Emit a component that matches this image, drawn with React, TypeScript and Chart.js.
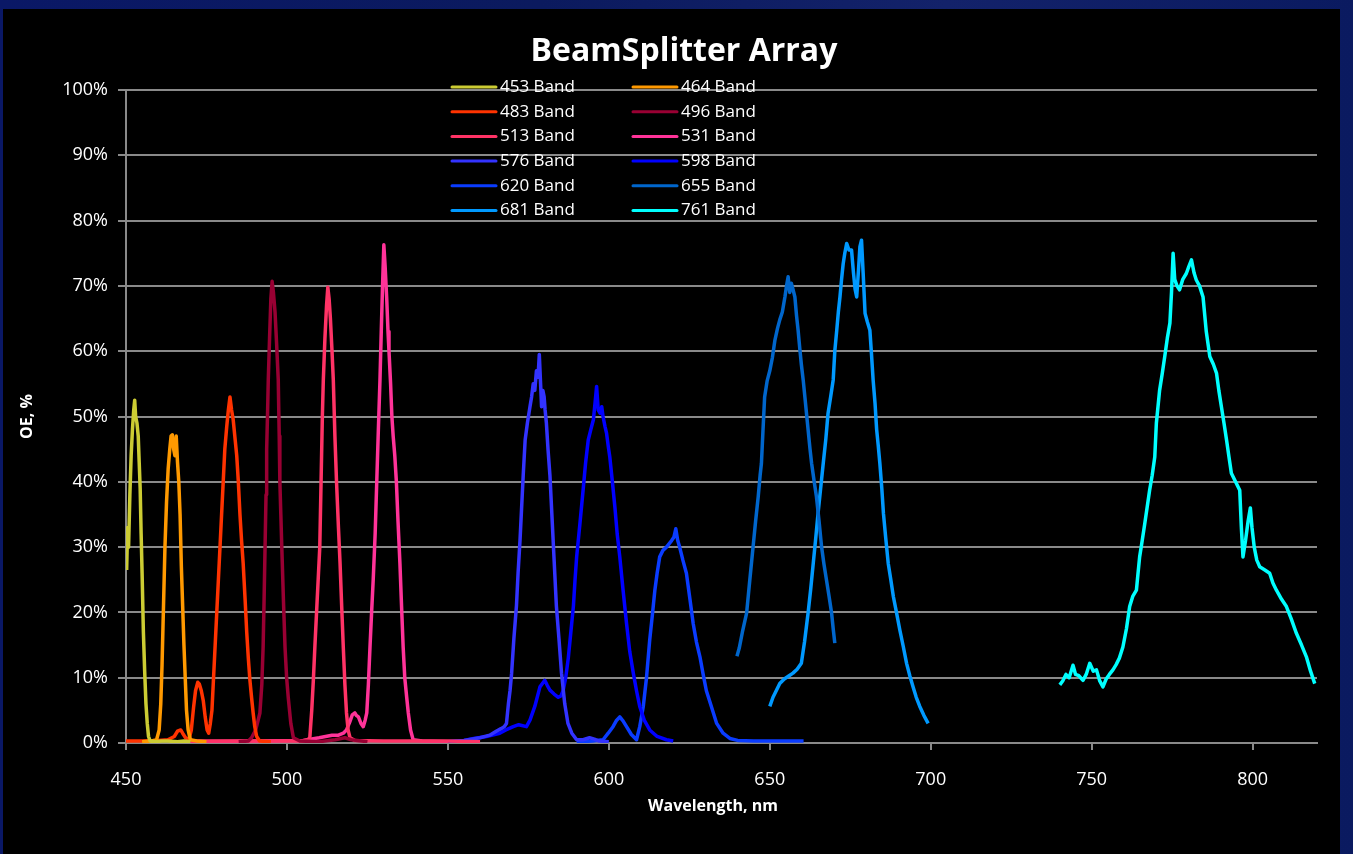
import React, { useEffect, useRef } from 'react';
import { Chart, registerables } from 'chart.js';

Chart.register(...registerables);

type P = [number, number];

const titleText = 'BeamSplitter Array';
const xTitle = 'Wavelength, nm';
const yTitle = 'OE, %';
const xTicks = [450, 500, 550, 600, 650, 700, 750, 800];

const bandNames = ['453 Band', '464 Band', '483 Band', '496 Band', '513 Band', '531 Band', '576 Band', '598 Band', '620 Band', '655 Band', '681 Band', '761 Band'];
const bandColors = ['#CCCC33', '#FF9900', '#FF3300', '#990033', '#FF3366', '#FF3399', '#3333FF', '#0000FF', '#0A3CFF', '#0066CC', '#0099FF', '#00FFFF'];

const band453: P[] = [[450.2, 26.5], [450.5, 33], [450.8, 30], [451.2, 38], [451.6, 44], [452.0, 48], [452.4, 51], [452.7, 52.5], [453.0, 50], [453.4, 49], [453.8, 47], [454.1, 43], [454.4, 39], [454.7, 32], [455.0, 26], [455.4, 17], [455.8, 11], [456.2, 6], [456.6, 3], [457.0, 1], [457.5, 0.3], [459, 0.2], [461, 0.3], [463, 0.3], [466, 0.2], [468, 0.3], [470, 0.2]];

const band464: P[] = [[455, 0.2], [458, 0.3], [459.5, 0.5], [460.3, 2], [460.8, 6], [461.2, 12], [461.6, 20], [462.1, 30], [462.6, 37], [463.1, 42], [463.6, 45], [464.0, 47], [464.4, 47.2], [464.8, 45], [465.2, 44], [465.6, 47], [466.0, 43], [466.4, 40], [466.8, 35], [467.2, 27], [467.6, 21], [468.0, 15], [468.4, 10], [468.8, 5], [469.3, 2], [470, 0.5], [472, 0.3], [475, 0.2]];

const band483: P[] = [[450, 0.3], [455, 0.3], [460, 0.4], [463, 0.5], [465, 1], [466, 1.8], [467, 2], [467.6, 1.5], [468.5, 0.8], [469.5, 0.5], [470.3, 2], [471, 5.5], [471.6, 8], [472.3, 9.3], [472.8, 9], [473.4, 8], [474, 6.5], [474.6, 4], [475.2, 2], [475.7, 1.5], [476.2, 3], [476.7, 5], [477.2, 10], [477.7, 15], [478.2, 20], [478.7, 25], [479.2, 30], [479.7, 35], [480.2, 40], [480.7, 45], [481.3, 48.5], [481.8, 51], [482.3, 53], [482.8, 51], [483.3, 49.5], [483.8, 47], [484.4, 44], [484.9, 40], [485.4, 35], [485.9, 31], [486.4, 27.5], [487.0, 22], [487.5, 17], [488.0, 13], [488.5, 9.6], [489.0, 7], [489.5, 4.6], [490.0, 2.5], [490.6, 1], [491.5, 0.3], [495, 0.2]];

const band496: P[] = [[485, 0.2], [488, 0.3], [489, 0.8], [490.3, 2], [491.6, 4.6], [492.2, 9], [492.6, 14.7], [492.9, 22], [493.2, 30], [493.5, 38], [493.7, 45], [494.0, 51], [494.2, 55.6], [494.6, 62], [495.0, 68], [495.4, 70.7], [495.8, 69], [496.3, 66], [496.8, 61], [497.3, 55.6], [497.6, 47], [497.8, 40], [498.1, 35], [498.4, 30], [498.9, 22], [499.4, 14.7], [499.9, 10], [500.4, 7], [501.2, 3], [502, 0.8], [504, 0.3], [510, 0.2], [515, 0.5], [518, 0.8], [520, 0.5], [525, 0.2]];

const band513: P[] = [[470, 0.3], [480, 0.3], [490, 0.3], [500, 0.3], [505, 0.3], [506.5, 0.5], [507.1, 0.8], [507.7, 5], [508.2, 9.6], [508.7, 15], [509.2, 20], [509.7, 25], [510.2, 30], [510.6, 40], [511.0, 50], [511.3, 55.6], [511.8, 62], [512.3, 67], [512.7, 69.8], [513.1, 68], [513.5, 65], [514.0, 60], [514.4, 55.6], [514.9, 47], [515.4, 40], [516.0, 33], [516.5, 27.5], [517.0, 21], [517.5, 14.7], [518.0, 9], [518.5, 4.6], [519.0, 2], [519.6, 0.8], [521, 0.4], [530, 0.3], [540, 0.3], [550, 0.3], [560, 0.2]];

const band531: P[] = [[470, 0.2], [490, 0.3], [505, 0.4], [510, 0.8], [514, 1.2], [516, 1.2], [517.5, 1.5], [518.5, 2], [519.5, 3.2], [520.3, 4.3], [521.1, 4.6], [521.6, 4.2], [522.2, 4], [523.0, 3], [523.7, 2.5], [524.3, 3.5], [524.8, 4.6], [525.3, 9], [525.8, 14.7], [526.3, 20], [526.8, 25], [527.4, 32], [527.9, 40], [528.4, 48], [528.9, 55.6], [529.3, 63], [529.7, 70], [530.1, 76.3], [530.5, 73], [531.0, 68], [531.4, 63], [531.7, 60], [532.2, 55], [532.6, 50], [533.0, 47], [533.5, 44], [534.0, 40], [534.5, 34], [535.1, 27.5], [535.6, 21], [536.1, 14.7], [536.6, 10], [537.2, 7], [537.7, 4.6], [538.4, 2], [539.2, 0.5], [542, 0.3], [550, 0.2]];

const band576: P[] = [[550, 0.2], [555, 0.4], [560, 0.8], [563, 1.2], [565, 1.8], [566.5, 2.2], [567.5, 2.5], [568.2, 3], [568.8, 6], [569.3, 8], [569.8, 10.7], [570.5, 16], [571.3, 21], [571.8, 26], [572.4, 31], [572.9, 36], [573.4, 41], [574.0, 46.4], [574.7, 49], [575.5, 51.5], [576.0, 53], [576.5, 55], [577.0, 54], [577.5, 57], [578.0, 56], [578.4, 59.5], [578.8, 55], [579.1, 51.5], [579.5, 54], [579.9, 53], [580.2, 51], [580.6, 49], [581.1, 45], [581.7, 41], [582.2, 36], [582.7, 31], [583.2, 26], [583.7, 21], [584.5, 16], [585.3, 10.7], [586.3, 6], [587.3, 3], [588.5, 1.5], [590, 0.5], [592, 0.5], [594, 0.8], [595.5, 0.6], [597, 0.3], [600, 0.2]];

const band598: P[] = [[550, 0.2], [555, 0.4], [558, 0.7], [562, 1], [566.1, 1.5], [568, 2], [570.3, 2.5], [572, 2.8], [574.4, 2.5], [575.5, 3.5], [577, 5.6], [578.6, 8.6], [580.1, 9.6], [580.9, 8.8], [581.7, 8.1], [583, 7.5], [584.3, 7], [585.1, 7.2], [585.8, 8], [586.6, 10], [587.4, 13], [588.2, 17], [589.0, 21], [589.5, 25], [590.0, 28.5], [591.0, 33.5], [592.0, 38.7], [592.8, 43], [593.6, 46.4], [594.4, 48], [595.2, 49.5], [595.7, 52], [596.2, 54.6], [596.7, 51], [597.3, 50.5], [597.8, 51.5], [598.2, 50], [598.8, 48.5], [599.3, 47.4], [599.8, 45.5], [600.3, 43.8], [601.1, 40], [601.9, 36], [602.6, 32], [603.4, 28.5], [604.4, 23.5], [605.5, 18.3], [606.5, 14], [607.6, 10.7], [608.6, 8], [609.6, 5.6], [611, 3.5], [612.7, 2], [615, 1], [617.9, 0.5], [620, 0.3]];

const band620: P[] = [[590, 0.2], [595, 0.3], [598.2, 0.5], [599.8, 1.5], [601.3, 2.5], [602.3, 3.4], [603.4, 4], [604.4, 3.4], [605.5, 2.5], [607, 1.3], [608.6, 0.5], [609.6, 2.5], [610.7, 5.6], [611.7, 10], [612.7, 15.8], [613.5, 19.5], [614.3, 23.4], [615.0, 26], [615.8, 28.5], [616.8, 29.5], [617.9, 30], [618.7, 30.5], [619.5, 31], [620.2, 31.5], [620.8, 32.8], [621.4, 31], [622.0, 30], [623.0, 28], [624.1, 26], [625.2, 22], [626.2, 18.3], [627.2, 15.5], [628.3, 13.2], [629.3, 10.5], [630.3, 8], [631.9, 5.5], [633.5, 3], [635.5, 1.5], [637.6, 0.7], [640, 0.4], [645, 0.3], [650, 0.3], [655, 0.3], [660.5, 0.3]];

const band655: P[] = [[639.8, 13.3], [640.5, 14.5], [641.5, 17], [642.8, 19.9], [643.8, 25], [644.8, 30], [645.6, 34], [646.4, 37.7], [647.0, 41], [647.4, 42.8], [647.9, 48], [648.4, 53], [649.2, 55.5], [650.0, 57], [650.8, 59], [651.6, 61.7], [652.4, 63.5], [653.1, 64.8], [653.9, 66], [654.7, 68.3], [655.2, 70], [655.7, 71.4], [656.2, 69], [656.7, 70.4], [657.2, 69.5], [657.8, 68.3], [658.3, 65.5], [658.8, 63.2], [659.3, 60.5], [659.8, 58], [660.4, 55.5], [660.9, 53], [661.4, 50.5], [661.9, 48], [662.5, 45], [663.0, 42.8], [663.8, 40], [664.5, 37.7], [665.3, 34], [666.1, 30], [666.8, 27.5], [667.6, 25], [668.4, 22.5], [669.2, 19.9], [669.7, 17.5], [670.2, 15.3]];

const band681: P[] = [[650.0, 5.6], [651.0, 7], [652.0, 8], [653.1, 9.1], [654.5, 9.8], [656.0, 10.3], [657.2, 10.7], [658.5, 11.3], [659.8, 12.2], [660.8, 15.5], [661.9, 19.9], [662.7, 23.5], [663.5, 27.5], [664.3, 31.5], [665.0, 35.2], [665.8, 39], [666.6, 42.8], [667.4, 46.5], [668.1, 50.5], [668.9, 53], [669.7, 55.6], [670.2, 60], [670.8, 63.2], [671.3, 66], [671.8, 68.3], [672.3, 71], [672.8, 73.4], [673.3, 75], [673.9, 76.5], [674.6, 75.5], [675.4, 75.5], [676.0, 72], [676.5, 69.5], [677.0, 68.3], [677.5, 72], [678.0, 76], [678.5, 77], [679.0, 72], [679.6, 65.8], [680.3, 64.5], [681.1, 63.2], [681.6, 59.5], [682.1, 55.6], [682.7, 52], [683.2, 48], [683.7, 45.5], [684.2, 42.8], [684.8, 39], [685.3, 35.2], [686.0, 31.5], [686.8, 27.5], [687.6, 25], [688.4, 22.4], [689.4, 19.9], [690.4, 17.3], [691.5, 14.7], [692.5, 12.2], [693.5, 10.3], [694.5, 8.6], [695.5, 7], [696.6, 5.6], [697.9, 4.2], [699.2, 3]];

const band761: P[] = [[740.1, 8.9], [741.0, 9.5], [742.0, 10.5], [743.0, 10], [744.2, 11.9], [745.0, 10.5], [746.0, 10.3], [747.3, 9.6], [748.3, 10.5], [749.4, 12.2], [750.5, 11], [751.5, 11.2], [752.5, 9.5], [753.5, 8.6], [754.5, 9.8], [755.5, 10.5], [756.6, 11.2], [757.6, 12], [758.6, 13], [759.7, 14.7], [760.8, 17.5], [761.8, 20.9], [762.8, 22.5], [763.9, 23.4], [764.4, 26], [764.9, 28.5], [765.7, 31], [766.5, 33.6], [767.2, 36], [768.0, 38.7], [768.8, 41], [769.6, 43.8], [770.1, 49], [770.6, 51.5], [771.1, 54], [771.9, 56.5], [772.7, 59.2], [773.5, 62], [774.3, 64.3], [774.8, 69], [775.3, 75], [775.8, 71], [776.5, 70], [777.3, 69.4], [778.3, 71], [779.4, 71.9], [780.2, 73], [781.0, 74], [781.8, 72], [782.5, 70.9], [783.5, 70], [784.6, 68.3], [785.6, 63], [786.7, 59.2], [787.8, 58], [788.8, 56.6], [789.5, 54], [790.3, 51.5], [791.1, 49], [791.9, 46.4], [792.6, 44], [793.4, 41.3], [794.7, 40], [796.0, 38.7], [796.5, 33], [797.0, 28.5], [797.8, 31], [798.6, 34], [799.3, 36], [799.8, 33], [800.5, 30], [801.3, 28], [802.2, 27], [803.8, 26.5], [805.3, 26], [806.3, 24.5], [807.4, 23.4], [809.0, 22], [810.5, 20.9], [812.0, 19], [813.6, 16.8], [815.2, 15], [816.7, 13.2], [818.0, 11], [819.3, 9.1]];

const bandData: P[][] = [band453, band464, band483, band496, band513, band531, band576, band598, band620, band655, band681, band761];

const FONT = "'Open Sans', 'DejaVu Sans', sans-serif";

const overlayText = {
  id: 'overlayText',
  afterDraw(chart: any) {
    const ctx = chart.ctx;
    ctx.save();
    // Title
    ctx.fillStyle = '#ffffff';
    ctx.textAlign = 'center';
    ctx.textBaseline = 'middle';
    ctx.font = `bold 32px ${FONT}`;
    ctx.fillText(titleText, 681, 43);
    // X axis title
    ctx.font = `bold 16px ${FONT}`;
    ctx.fillText(xTitle, 710, 797);
    // Legend (two columns)
    ctx.font = `17px ${FONT}`;
    ctx.textAlign = 'left';
    chart.data.datasets.forEach((ds: any, i: number) => {
      const col = i % 2;
      const row = Math.floor(i / 2);
      const x0 = col === 0 ? 449 : 630;
      const y = 78 + row * 24.7;
      ctx.strokeStyle = ds.borderColor;
      ctx.lineWidth = 3;
      ctx.lineCap = 'round';
      ctx.beginPath();
      ctx.moveTo(x0, y);
      ctx.lineTo(x0 + 44, y);
      ctx.stroke();
      ctx.fillStyle = '#ffffff';
      ctx.fillText(ds.label, x0 + 48, y);
    });
    ctx.restore();
  },
};

export default function App() {
  const ref = useRef<HTMLCanvasElement | null>(null);

  useEffect(() => {
    if (!ref.current) return;
    const chart = new Chart(ref.current, {
      type: 'line',
      data: {
        datasets: bandNames.map((name, i) => ({
          label: name,
          data: bandData[i].map(([x, y]) => ({ x, y })),
          borderColor: bandColors[i],
          backgroundColor: bandColors[i],
          borderWidth: 3.5,
          pointRadius: 0,
          tension: 0,
          fill: false,
          borderJoinStyle: 'round' as const,
        })),
      },
      options: {
        animation: false,
        responsive: false,
        maintainAspectRatio: false,
        devicePixelRatio: 1,
        layout: { padding: { left: 0, right: 23, top: 81, bottom: 0 } },
        plugins: {
          legend: { display: false },
          tooltip: { enabled: false },
          title: { display: false },
        },
        scales: {
          x: {
            type: 'linear',
            min: 450,
            max: 820,
            afterFit: (s: any) => { s.height = 111; },
            afterBuildTicks: (s: any) => { s.ticks = xTicks.map((v) => ({ value: v })); },
            ticks: {
              color: '#ffffff',
              font: { family: FONT, size: 18 },
              padding: 19,
              maxRotation: 0,
              autoSkip: false,
            },
            grid: { display: true, drawOnChartArea: false, drawTicks: true, tickLength: 7, color: '#8a8a8a', lineWidth: 2 },
            border: { display: true, color: '#8a8a8a', width: 2 },
            title: { display: false },
          },
          y: {
            min: 0,
            max: 100,
            afterFit: (s: any) => { s.width = 123; },
            ticks: {
              stepSize: 10,
              color: '#ffffff',
              font: { family: FONT, size: 18 },
              padding: 10,
              callback: (v: any) => `${v}%`,
            },
            grid: { color: '#8a8a8a', lineWidth: 2, tickLength: 8 },
            border: { display: true, color: '#8a8a8a', width: 2 },
            title: {
              display: true,
              text: yTitle,
              color: '#ffffff',
              font: { family: FONT, size: 16, weight: 'bold' },
              padding: { top: 15, bottom: 0 },
            },
          },
        },
      },
      plugins: [overlayText],
    });
    return () => chart.destroy();
  }, []);

  return (
    <div
      style={{
        position: 'fixed',
        left: 0,
        top: 0,
        width: 1353,
        height: 854,
        overflow: 'hidden',
        background: 'linear-gradient(90deg, #0a1866 0%, #0b1a5e 40%, #13226a 70%, #0a1a60 100%)',
      }}
    >
      <div style={{ position: 'absolute', left: 3, top: 9, width: 1337, height: 845, background: '#000000' }}>
        <canvas ref={ref} width={1337} height={845} style={{ display: 'block', width: 1337, height: 845 }} />
      </div>
    </div>
  );
}
